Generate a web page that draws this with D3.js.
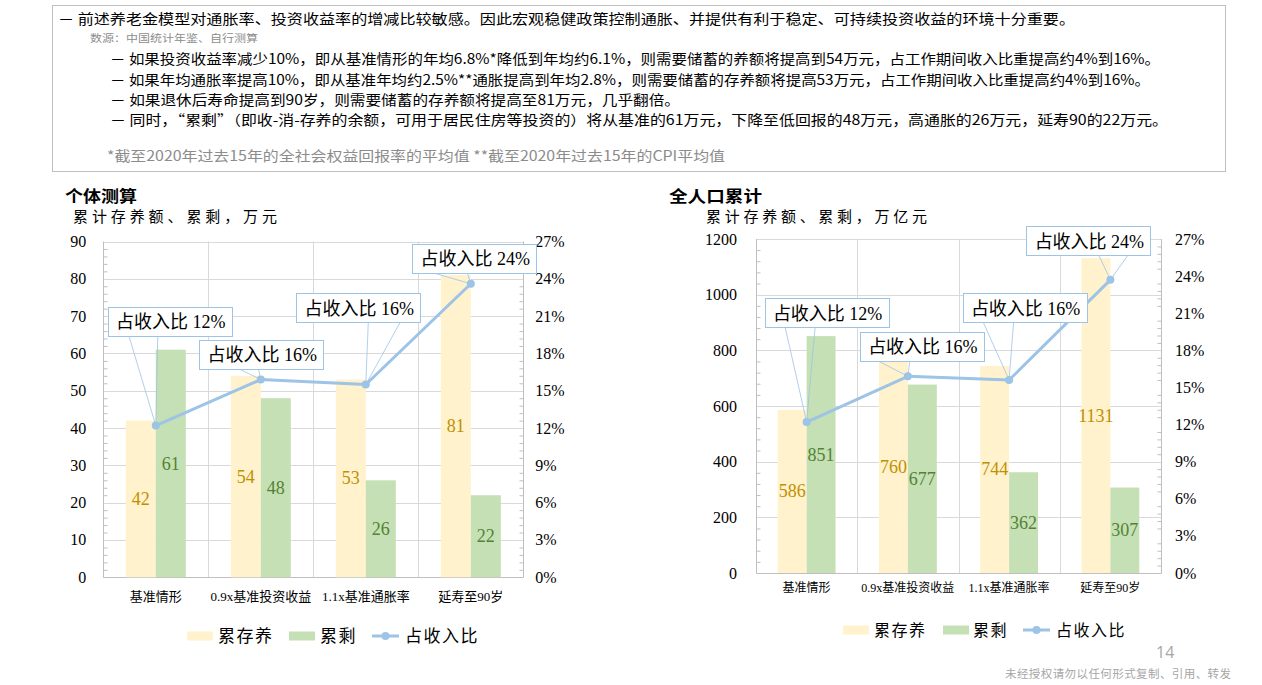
<!DOCTYPE html>
<html>
<head>
<meta charset="utf-8">
<script src="https://cdn.jsdelivr.net/npm/d3@7"></script>
<style>
  body { margin: 0; background: #fff; }
  svg { display: block; }
</style>
</head>
<body>
<svg id="page" width="1262" height="685"></svg>
<script>
// ---- data ----
const categories = ["基准情形", "0.9x基准投资收益", "1.1x基准通胀率", "延寿至90岁"]

const personSaved = [42, 54, 53, 81]
const personLeft = [61, 48, 26, 22]
const personShare = [12.2, 15.9, 15.5, 23.6]
const personTicks = [0, 10, 20, 30, 40, 50, 60, 70, 80, 90]

const totalSaved = [586, 760, 744, 1131]
const totalLeft = [851, 677, 362, 307]
const totalShare = [12.2, 15.9, 15.6, 23.7]
const totalTicks = [0, 200, 400, 600, 800, 1000, 1200]

const shareTicks = [0, 3, 6, 9, 12, 15, 18, 21, 24, 27]

const seriesNames = ["累存养", "累剩", "占收入比"]

const notes = [
    "－  前述养老金模型对通胀率、投资收益率的增减比较敏感。因此宏观稳健政策控制通胀、并提供有利于稳定、可持续投资收益的环境十分重要。",
    "数源：中国统计年鉴、自行测算",
    "－  如果投资收益率减少10%，即从基准情形的年均6.8%*降低到年均约6.1%，则需要储蓄的养额将提高到54万元，占工作期间收入比重提高约4%到16%。",
    "－  如果年均通胀率提高10%，即从基准年均约2.5%**通胀提高到年均2.8%，则需要储蓄的存养额将提高53万元，占工作期间收入比重提高约4%到16%。",
    "－  如果退休后寿命提高到90岁，则需要储蓄的存养额将提高至81万元，几乎翻倍。",
    "－  同时，“累剩”（即收-消-存养的余额，可用于居民住房等投资的）将从基准的61万元，下降至低回报的48万元，高通胀的26万元，延寿90的22万元。",
    "*截至2020年过去15年的全社会权益回报率的平均值 **截至2020年过去15年的CPI平均值",
]

// ---- style ----
const SERIF = "'Liberation Serif', 'Noto Sans CJK SC', serif"
const SANS = "'Noto Sans CJK SC', 'Noto Sans', sans-serif"
const YELLOW = "#FFF2CC"
const GREEN = "#C5E0B4"
const BLUE = "#9DC3E6"
const GRID = "#D9D9D9"
const AXIS = "#BFBFBF"

const svg = d3.select("#page")

// ---- note box ----
const noteLayout = [
    {x: 58, x2: 1075, y: 18, size: 14, color: "#000"},
    {x: 90, x2: 258, y: 37, size: 10, color: "#8C8C8C"},
    {x: 110, x2: 1160, y: 58, size: 14, color: "#000"},
    {x: 110, x2: 1150, y: 79, size: 14, color: "#000"},
    {x: 110, x2: 680, y: 99, size: 14, color: "#000"},
    {x: 110, x2: 1168, y: 119, size: 14, color: "#000"},
    {x: 107, x2: 725, y: 155, size: 14, color: "#8C8C8C"},
]

svg.append("rect")
    .attr("x", 52.5).attr("y", 5.5)
    .attr("width", 1173).attr("height", 166)
    .attr("fill", "none")
    .attr("stroke", AXIS)

svg.append("g")
    .selectAll("text")
    .data(notes)
    .join("text")
    .attr("x", (d, i) => noteLayout[i].x)
    .attr("y", (d, i) => noteLayout[i].y)
    .attr("dominant-baseline", "central")
    .attr("font-family", SANS)
    .attr("font-size", (d, i) => noteLayout[i].size)
    .attr("fill", (d, i) => noteLayout[i].color)
    .attr("textLength", (d, i) => noteLayout[i].x2 - noteLayout[i].x)
    .attr("lengthAdjust", "spacingAndGlyphs")
    .text(d => d)

// ---- charts ----
function drawChart(cfg) {
    const g = svg.append("g")
    const [x0, x1, y0, y1] = cfg.plot

    const x = d3.scaleBand().domain(categories).range([x0, x1])
    const sub = d3.scaleBand().domain([0, 1]).range([0, x.bandwidth()]).paddingOuter(0.75)
    const y = d3.scaleLinear().domain([0, d3.max(cfg.ticks)]).range([y1, y0])
    const yR = d3.scaleLinear().domain([0, d3.max(shareTicks)]).range([y1, y0])
    const cx = c => x(c) + x.bandwidth() / 2

    // titles
    g.append("text")
        .attr("x", cfg.title.x).attr("y", 195)
        .attr("dominant-baseline", "central")
        .attr("font-family", SANS).attr("font-weight", "bold").attr("font-size", 16)
        .attr("textLength", cfg.title.w).attr("lengthAdjust", "spacingAndGlyphs")
        .text(cfg.title.text)
    g.append("text")
        .attr("x", cfg.subtitle.x).attr("y", 215)
        .attr("dominant-baseline", "central")
        .attr("font-family", SANS).attr("font-size", 15)
        .attr("textLength", cfg.subtitle.w).attr("lengthAdjust", "spacing")
        .text(cfg.subtitle.text)

    // grid
    g.append("g")
        .selectAll("line")
        .data(cfg.ticks.slice(1))
        .join("line")
        .attr("x1", x0).attr("x2", x1)
        .attr("y1", d => Math.round(y(d)) + 0.5).attr("y2", d => Math.round(y(d)) + 0.5)
        .attr("stroke", GRID)
    g.append("g")
        .selectAll("line")
        .data(categories.slice(1))
        .join("line")
        .attr("x1", d => Math.round(x(d)) + 0.5).attr("x2", d => Math.round(x(d)) + 0.5)
        .attr("y1", y0).attr("y2", y1)
        .attr("stroke", GRID)

    // axes lines + minor ticks
    const step = cfg.ticks[1] / 5
    const minor = d3.range(0, d3.max(cfg.ticks), step).filter((d, i) => i % 5 !== 0)
    const rStep = shareTicks[1] / 5
    const minorR = d3.range(0, d3.max(shareTicks), rStep).filter((d, i) => i % 5 !== 0)

    const leftAxis = g.append("g")
        .attr("transform", `translate(${Math.round(x0) + 0.5},0)`)
        .call(d3.axisRight(y).tickValues(minor).tickSize(4).tickFormat(""))
    const rightAxis = g.append("g")
        .attr("transform", `translate(${Math.round(x1) + 0.5},0)`)
        .call(d3.axisLeft(yR).tickValues(minorR).tickSize(4).tickFormat(""))
    for (const a of [leftAxis, rightAxis]) {
        a.select(".domain").remove()
        a.selectAll("line").attr("stroke", AXIS)
    }
    g.append("path")
        .attr("d", `M${Math.round(x0) + 0.5},${y0}V${Math.round(y1) + 0.5}H${Math.round(x1) + 0.5}V${y0}`)
        .attr("fill", "none")
        .attr("stroke", AXIS)

    // tick labels
    g.append("g")
        .selectAll("text")
        .data(cfg.ticks)
        .join("text")
        .attr("x", x0 - cfg.tickPad).attr("y", d => y(d))
        .attr("text-anchor", "end").attr("dominant-baseline", "central")
        .attr("font-family", SERIF).attr("font-size", 16)
        .text(d => d)
    g.append("g")
        .selectAll("text")
        .data(shareTicks)
        .join("text")
        .attr("x", x1 + cfg.tickPadR).attr("y", d => yR(d))
        .attr("dominant-baseline", "central")
        .attr("font-family", SERIF).attr("font-size", 16)
        .text(d => d + "%")
    g.append("g")
        .selectAll("text")
        .data(categories)
        .join("text")
        .attr("x", d => cx(d)).attr("y", cfg.catY)
        .attr("text-anchor", "middle").attr("dominant-baseline", "central")
        .attr("font-family", SERIF).attr("font-size", cfg.catSize)
        .text(d => d)

    // bars
    const series = [
        {values: cfg.saved, fill: YELLOW, label: "#BF9000"},
        {values: cfg.left, fill: GREEN, label: "#548235"},
    ]
    series.forEach((s, k) => {
        const bg = g.append("g")
        bg.selectAll("rect")
            .data(s.values)
            .join("rect")
            .attr("x", (d, i) => x(categories[i]) + sub(k))
            .attr("y", d => y(d))
            .attr("width", sub.bandwidth())
            .attr("height", d => y(0) - y(d))
            .attr("fill", s.fill)
        bg.selectAll("text")
            .data(s.values)
            .join("text")
            .attr("x", (d, i) => x(categories[i]) + sub(k) + sub.bandwidth() / 2)
            .attr("y", d => (y(d) + y(0)) / 2)
            .attr("text-anchor", "middle").attr("dominant-baseline", "central")
            .attr("font-family", SERIF).attr("font-size", 18)
            .attr("fill", s.label)
            .text(d => d)
    })

    // share line
    const line = d3.line()
        .x((d, i) => cx(categories[i]))
        .y(d => yR(d))
    g.append("path")
        .datum(cfg.share)
        .attr("d", line)
        .attr("fill", "none")
        .attr("stroke", BLUE)
        .attr("stroke-width", 3)
        .attr("stroke-linejoin", "round")
    g.append("g")
        .selectAll("circle")
        .data(cfg.share)
        .join("circle")
        .attr("cx", (d, i) => cx(categories[i]))
        .attr("cy", d => yR(d))
        .attr("r", 4)
        .attr("fill", BLUE)

    // callouts
    const boxW = 124, boxH = 29
    const call = g.append("g")
        .selectAll("g")
        .data(cfg.share)
        .join("g")
    call.each(function (d, i) {
        const px = cx(categories[i]), py = yR(d)
        const o = cfg.callouts[i]
        const bx = px + o.dx, by = py + o.dy
        const el = d3.select(this)
        el.append("path")
            .attr("d", `M${bx + o.a[0]},${by + boxH / 2}L${px},${py}L${bx + o.a[1]},${by + boxH / 2}`)
            .attr("fill", "none")
            .attr("stroke", BLUE)
            .attr("stroke-width", 0.8)
        el.append("rect")
            .attr("x", Math.round(bx - boxW / 2) + 0.5).attr("y", Math.round(by - boxH / 2) + 0.5)
            .attr("width", boxW).attr("height", boxH)
            .attr("fill", "#fff")
            .attr("stroke", BLUE)
        el.append("text")
            .attr("x", bx + 1).attr("y", by + 1)
            .attr("text-anchor", "middle").attr("dominant-baseline", "central")
            .attr("font-family", SERIF).attr("font-size", 18)
            .text(`占收入比 ${Math.round(d)}%`)
    })

    // legend
    const lg = g.append("g").attr("transform", `translate(${cfg.legend.x},${cfg.legend.y})`)
    const off = cfg.legend.off
    lg.append("rect").attr("x", off[0]).attr("y", -4.5).attr("width", 26).attr("height", 9).attr("fill", YELLOW)
    lg.append("rect").attr("x", off[2]).attr("y", -4.5).attr("width", 26).attr("height", 9).attr("fill", GREEN)
    lg.append("line").attr("x1", off[4]).attr("x2", off[4] + 27).attr("stroke", BLUE).attr("stroke-width", 3)
    lg.append("circle").attr("cx", off[4] + 13.5).attr("r", 4).attr("fill", BLUE)
    lg.selectAll("text")
        .data(seriesNames)
        .join("text")
        .attr("x", (d, i) => off[i * 2 + 1])
        .attr("dominant-baseline", "central")
        .attr("font-family", SERIF).attr("font-size", cfg.legend.size)
        .attr("letter-spacing", 1.5)
        .text(d => d)
}

drawChart({
    plot: [103.3, 523.3, 241.5, 577.3],
    ticks: personTicks,
    saved: personSaved,
    left: personLeft,
    share: personShare,
    title: {text: "个体测算", x: 65, w: 72},
    subtitle: {text: "累计存养额、累剩，万元", x: 73, w: 204},
    tickPad: 17,
    tickPadR: 12,
    catY: 596,
    catSize: 13,
    callouts: [
        {dx: 14, dy: -104.5, a: [-41, -12]},
        {dx: 0.5, dy: -25.5, a: [-23, -3]},
        {dx: -7.5, dy: -77, a: [10, 42]},
        {dx: 3.5, dy: -25.7, a: [-42, -7]},
    ],
    legend: {x: 187, y: 636, size: 17, off: [0, 31, 102, 133, 185, 218]},
})

drawChart({
    plot: [756, 1161, 239, 573],
    ticks: totalTicks,
    saved: totalSaved,
    left: totalLeft,
    share: totalShare,
    title: {text: "全人口累计", x: 669, w: 93},
    subtitle: {text: "累计存养额、累剩，万亿元", x: 706, w: 221},
    tickPad: 19,
    tickPadR: 14,
    catY: 588,
    catSize: 12,
    callouts: [
        {dx: 20, dy: -109.5, a: [-41.5, -11.5]},
        {dx: 14, dy: -30, a: [-44, -12]},
        {dx: 15.5, dy: -72.5, a: [-41.5, -11]},
        {dx: -22, dy: -39, a: [10.5, 39.5]},
    ],
    legend: {x: 843, y: 630, size: 16, off: [0, 31, 100, 130, 180, 213]},
})

// ---- footer ----
svg.append("text")
    .attr("x", 1156).attr("y", 652)
    .attr("dominant-baseline", "central")
    .attr("font-family", "'Open Sans', 'Noto Sans', sans-serif").attr("font-size", 16)
    .attr("fill", "#A6A6A6")
    .text("14")
svg.append("text")
    .attr("x", 1005).attr("y", 673)
    .attr("dominant-baseline", "central")
    .attr("font-family", SANS).attr("font-size", 11.5)
    .attr("fill", "#A6A6A6")
    .attr("textLength", 226).attr("lengthAdjust", "spacing")
    .text("未经授权请勿以任何形式复制、引用、转发")
</script>
</body>
</html>
